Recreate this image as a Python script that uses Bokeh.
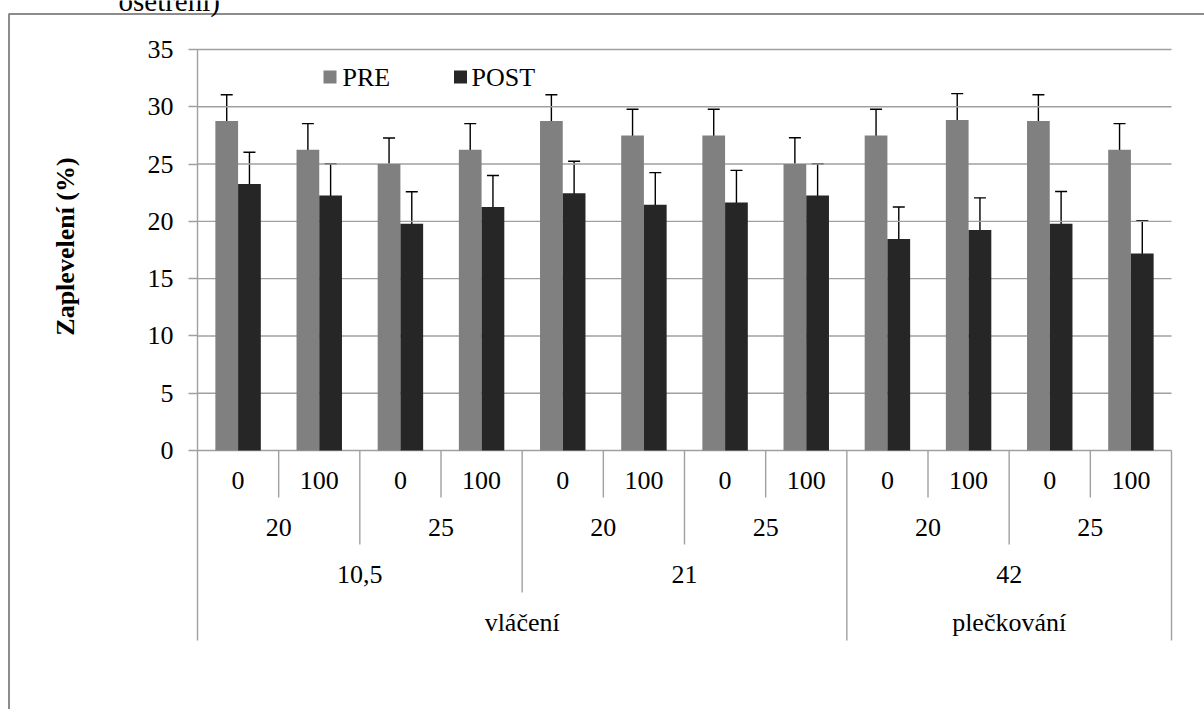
import numpy as np
from bokeh.plotting import figure
from bokeh.models import (Range1d, FixedTicker, ColumnDataSource, Whisker, TeeHead,
                          LinearAxis)
from bokeh.core.properties import value
from bokeh.embed import file_html
from bokeh.resources import INLINE

# ---------------- data ----------------
series = ["PRE", "POST"]
pre = [28.75, 26.25, 25.0, 26.25, 28.75, 27.5, 27.5, 25.0, 27.5, 28.85, 28.75, 26.25]
pre_err = [2.3, 2.28, 2.28, 2.28, 2.3, 2.28, 2.28, 2.3, 2.28, 2.3, 2.3, 2.28]
post = [23.25, 22.25, 19.8, 21.25, 22.45, 21.45, 21.65, 22.25, 18.45, 19.25, 19.8, 17.2]
post_err = [2.78, 2.78, 2.78, 2.75, 2.8, 2.8, 2.8, 2.78, 2.8, 2.8, 2.8, 2.85]

level1 = ["0", "100"] * 6
level2 = ["20", "25", "20", "25", "20", "25"]
level2_span = [2, 2, 2, 2, 2, 2]
level3 = ["10,5", "21", "42"]
level3_span = [4, 4, 4]
level4 = ["vláčení", "plečkování"]
level4_span = [8, 4]

y_ticks = [0, 5, 10, 15, 20, 25, 30, 35]
y_title = "Zaplevelení (%)"
caption = "ošetření)"

# ---------------- style ----------------
FONT = "Liberation Serif"
FS = "26px"
C_PRE = "#808080"
C_POST = "#262626"
C_GRID = "#a0a0a0"
C_FRAME = "#8c8c8c"

n = len(pre)
W, H = 1204, 709
# plot area geometry (pixels): value axis at x=197, categories 974 px wide,
# value 0 at y=450, 35 at y=49
X0, PX = 197.0, 974.0 / n
Y0, PY = 450.0, 401.0 / 35.0
TXT_SHIFT = 10.0  # svg text baseline correction (px)

def dx(sx):
    return (sx - X0) / PX

def dy(sy):
    return (Y0 - sy) / PY

def ty(sy):
    return dy(sy - TXT_SHIFT)

p = figure(width=W, height=H,
           x_range=Range1d(dx(0), dx(W)), y_range=Range1d(dy(H), dy(0)),
           output_backend="svg", toolbar_location=None,
           x_axis_location=None, y_axis_location=None,
           min_border=0)
p.outline_line_color = None
p.background_fill_color = "white"
p.border_fill_color = "white"
p.xgrid.grid_line_color = None
p.ygrid.grid_line_color = None

# page frame (left & top edges of the embedded chart object)
p.quad(left=[dx(8.5)], right=[dx(W + 20)], top=[dy(13.5)], bottom=[dy(H + 20)],
       fill_color=None, line_color=C_FRAME, line_width=2)

# value gridlines
p.segment(x0=[0] * len(y_ticks), x1=[n] * len(y_ticks), y0=y_ticks, y1=y_ticks,
          line_color=C_GRID, line_width=1.4)

# y axis (fixed at the left edge of the categories)
depth_bottom = dy(640)
ticker = FixedTicker(ticks=y_ticks)
yax = LinearAxis(ticker=ticker, fixed_location=0, bounds=(depth_bottom, max(y_ticks)))
yax.axis_line_color = C_GRID
yax.axis_line_width = 1.4
yax.major_tick_line_color = C_GRID
yax.major_tick_line_width = 1.4
yax.major_tick_out = 9
yax.major_tick_in = 0
yax.minor_tick_line_color = None
yax.major_label_standoff = 15
yax.major_label_text_font = FONT
yax.major_label_text_font_size = FS
yax.major_label_text_color = "black"
p.add_layout(yax, "left")

# bars
idx = np.arange(n)
bw = 0.28
x_pre = idx + 0.5 - bw / 2
x_post = idx + 0.5 + bw / 2
p.vbar(x=x_pre, top=pre, width=bw, bottom=0, fill_color=C_PRE, line_color=None)
p.vbar(x=x_post, top=post, width=bw, bottom=0, fill_color=C_POST, line_color=None)

for xs, vals, errs in ((x_pre, pre, pre_err), (x_post, post, post_err)):
    v = np.array(vals)
    e = np.array(errs)
    src = ColumnDataSource(dict(x=xs, upper=v + e, lower=v - e))
    p.add_layout(Whisker(base="x", upper="upper", lower="lower", source=src,
                         line_color="black", line_width=1.4,
                         upper_head=TeeHead(size=12, line_color="black", line_width=1.4),
                         lower_head=TeeHead(size=12, line_color="black", line_width=1.4)))

# hierarchical category axis (4 levels) below the value axis
levels = [
    (level1, [1] * len(level1)),
    (level2, level2_span),
    (level3, level3_span),
    (level4, level4_span),
]
label_base = [ty(490), ty(537), ty(584), ty(631.5)]
sep_depth = [dy(497), dy(544), dy(592), dy(640)]

depth_at = {}
for li, (labels, spans) in enumerate(levels):
    starts = np.concatenate([[0], np.cumsum(spans)[:-1]])
    centers = starts + np.array(spans) / 2.0
    p.text(x=centers, y=[label_base[li]] * len(labels), text=labels,
           text_font=value(FONT), text_font_size=FS, text_color="black",
           text_align="center", text_baseline="alphabetic")
    for b in np.cumsum(spans):
        depth_at[float(b)] = sep_depth[li]
bx = sorted(depth_at.keys())
p.segment(x0=bx, x1=bx, y0=[0] * len(bx), y1=[depth_at[b] for b in bx],
          line_color=C_GRID, line_width=1.4)

# legend (inside the plot area, top)
p.scatter(x=[dx(329.5), dx(460)], y=[dy(76.5)] * 2, marker="square", size=13,
          fill_color=[C_PRE, C_POST], line_color=None)
p.text(x=[dx(342), dx(471)], y=[ty(86.7)] * 2, text=series, text_font=value(FONT),
       text_font_size=FS, text_color="black", text_align="left",
       text_baseline="alphabetic")

# y axis title
p.text(x=[dx(65)], y=[dy(246)], text=[y_title], angle=np.pi / 2,
       text_font=value(FONT), text_font_size="26px", text_font_style="bold",
       text_align="center", text_baseline="middle", text_color="black")

# caption line above the chart object (cropped by the page top, as in the source)
p.text(x=[dx(118)], y=[dy(11 - 11)], text=[caption], text_font=value(FONT),
       text_font_size="29px", text_align="left", text_baseline="alphabetic",
       text_color="black")

open("out.html", "w").write(file_html(p, INLINE))
